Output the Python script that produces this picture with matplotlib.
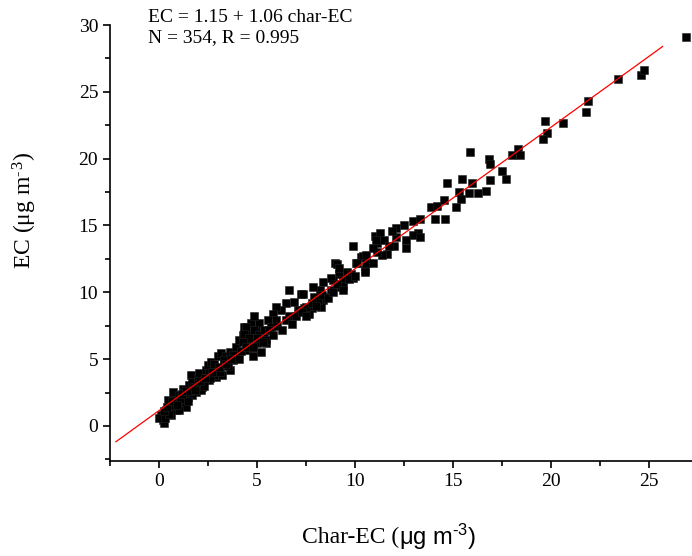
import numpy as np
import matplotlib
matplotlib.use("Agg")
from matplotlib import pyplot as plt
from matplotlib.ticker import MultipleLocator

plt.rcParams['mathtext.default'] = 'regular'

# char-EC vs EC values (ug m-3)
char_ec_low = [0.18, 0.10, 0.36, 0.53, 0.44, 0.78, 0.69, 1.04, 1.20, 0.95, 1.20, 1.46, 1.55, 1.63,
               1.70, 1.97, 2.06, 2.22, 1.90, 2.40, 2.48, 2.65, 2.82, 3.00, 3.16, 3.33, 3.42, 3.60,
               2.90, 3.76, 3.93, 4.10, 4.27, 4.44, 4.60, 4.35, 4.70, 4.95, 5.10, 5.37, 5.44, 5.20,
               4.78, 4.60, 4.00, 3.60, 3.24, 2.57, 2.30, 1.38, 0.27, 0.00, 0.60, 0.87, 1.70, 2.14,
               2.57, 2.82, 0.30, 0.50, 0.80, 1.00, 1.10, 1.30, 1.50, 1.80, 2.00, 2.30, 2.60, 2.80,
               3.10, 3.30, 3.50, 3.80, 4.10, 4.20, 4.50, 4.80, 0.25, 0.40, 0.65, 0.90, 1.15, 1.40,
               1.60, 1.85, 2.10, 2.35, 2.70, 3.05, 3.40, 3.70]
ec_low = [0.45, 0.82, 1.20, 1.57, 1.94, 2.20, 2.57, 2.30, 2.80, 1.70, 1.80, 2.20, 3.07, 3.80,
          3.30, 3.57, 3.94, 2.94, 2.57, 4.20, 4.56, 4.80, 4.30, 5.20, 5.44, 4.70, 5.20, 5.56,
          3.70, 4.94, 5.90, 6.40, 6.80, 5.70, 6.20, 7.40, 7.70, 7.20, 6.56, 6.90, 6.20, 5.56,
          5.20, 6.90, 5.30, 4.20, 3.80, 3.44, 3.44, 1.44, 0.20, 0.57, 0.82, 1.20, 2.30, 2.70,
          3.94, 3.80, 0.60, 0.90, 1.50, 1.20, 2.00, 2.50, 1.90, 2.90, 3.20, 3.00, 3.60, 4.60,
          4.00, 4.90, 4.50, 5.30, 5.00, 5.60, 6.00, 5.80, 1.10, 1.40, 1.90, 1.60, 2.40, 2.60,
          2.60, 2.70, 3.40, 3.60, 4.00, 4.40, 4.60, 5.00]

char_ec_mid = [7.24, 6.90, 6.65, 7.07, 7.40, 6.48, 6.22, 6.65, 5.97, 5.80, 5.54, 5.97, 5.70, 5.10,
               4.86, 4.86, 4.44, 4.35, 4.60, 5.10, 5.37, 5.44, 5.00, 4.27, 4.44, 4.78,
               8.35, 8.20, 7.90, 8.35, 8.26, 7.80, 7.67, 9.00, 9.20, 9.60, 9.90, 9.30, 8.86, 8.80,
               10.30, 10.50, 10.05, 11.00, 11.15, 9.90, 10.40, 10.10, 10.56, 10.90, 10.50, 9.80,
               9.40, 9.06, 9.20, 8.80, 9.40, 7.84, 7.33, 8.43, 8.10, 7.50, 7.16,
               5.00, 5.30, 5.60, 5.80, 6.00, 6.30, 6.50, 6.80, 7.00, 7.30, 7.50, 7.80, 8.00, 8.30,
               8.60, 8.90, 9.10, 9.40, 9.70, 10.00]
ec_mid = [9.90, 9.30, 10.20, 8.70, 8.80, 9.20, 8.70, 8.20, 8.90, 8.40, 7.90, 7.90, 7.40, 7.70,
          8.20, 7.20, 7.40, 6.90, 6.56, 6.80, 7.20, 6.40, 6.20, 6.30, 5.90, 5.90,
          10.80, 10.20, 9.67, 9.40, 8.90, 8.80, 8.40, 12.20, 11.40, 11.50, 11.05, 10.40, 10.90, 10.20,
          12.66, 11.70, 12.20, 14.20, 13.70, 13.50, 12.70, 12.20, 12.20, 12.20, 11.50, 11.40,
          10.90, 12.10, 11.80, 11.05, 10.50, 10.40, 9.90, 9.67, 9.40, 8.90, 8.70,
          6.60, 6.30, 7.20, 6.80, 7.50, 7.20, 7.90, 7.60, 8.20, 8.50, 8.20, 9.20, 9.00, 9.80,
          9.60, 10.00, 10.60, 10.20, 11.00, 11.20]

char_ec_high = [11.30, 11.07, 11.50, 12.10, 12.00, 11.75, 11.66, 11.40, 11.15, 10.90, 10.55,
                12.94, 12.50, 12.10, 11.90, 13.20, 12.94, 13.30, 12.60, 12.60, 13.30,
                13.90, 14.10, 14.60, 14.20, 14.56, 15.15, 15.30, 15.40, 15.80, 16.26, 16.70,
                15.97, 15.44, 14.70, 16.90, 17.50, 17.70, 18.00, 18.30, 18.40, 16.85, 16.90,
                15.87, 19.70, 20.60, 19.80, 19.60, 21.80, 21.87, 23.40, 24.60, 24.76, 26.90]
ec_high = [14.40, 13.90, 13.90, 14.16, 13.50, 13.46, 12.90, 12.80, 13.00, 13.30, 12.80,
           15.30, 15.00, 14.80, 14.60, 14.40, 14.30, 14.16, 13.90, 13.30, 15.50,
           16.35, 15.50, 15.50, 16.45, 16.90, 16.35, 17.50, 16.95, 17.40, 17.45, 17.60,
           18.15, 18.45, 18.15, 18.40, 19.10, 18.50, 20.30, 20.70, 20.27, 19.95, 19.60,
           20.47, 22.80, 22.70, 21.90, 21.50, 23.50, 24.30, 25.95, 26.25, 26.60, 29.07]

char_ec = np.array(char_ec_low + char_ec_mid + char_ec_high)
ec = np.array(ec_low + ec_mid + ec_high)

# regression from the annotation
intercept, slope = 1.15, 1.06
line_x = np.array([-2.2, 25.7])

fig = plt.figure(figsize=(6.92, 5.56), dpi=100)
ax = fig.add_axes([110 / 692, 1 - 460.7 / 556, 582 / 692, 435.7 / 556])

ax.plot(char_ec, ec, 's', color='black', ms=6.4, mec='#222222', mew=0.4, clip_on=False, zorder=2)
ax.plot(line_x, intercept + slope * line_x, color='red', lw=0.9, zorder=3)

ax.set_xlim(-2.5, 27.2)
ax.set_ylim(-2.6, 30)
ax.spines['top'].set_visible(False)
ax.spines['right'].set_visible(False)
for s in ['left', 'bottom']:
    ax.spines[s].set_linewidth(1.2)
ax.xaxis.set_major_locator(MultipleLocator(5))
ax.xaxis.set_minor_locator(MultipleLocator(2.5))
ax.yaxis.set_major_locator(MultipleLocator(5))
ax.yaxis.set_minor_locator(MultipleLocator(2.5))
ax.tick_params(which='both', direction='out', width=1.2)
ax.tick_params(which='major', length=5)
ax.tick_params(which='minor', length=3.5)
for lab in ax.get_xticklabels() + ax.get_yticklabels():
    lab.set_family('Liberation Serif')
    lab.set_fontsize(14)

fig.text(148 / 692, 1 - 9 / 556, "EC = 1.15 + 1.06 char-EC\nN = 354, R = 0.995",
         family='Liberation Serif', fontsize=14, ha='left', va='top', linespacing=1.2)

# labels: superscript drawn with a hyphen as in the original
fig.text(25 / 692, 1 - 210 / 556, "EC (\u03bcg m$^{\u2010\u200a3}$)", family='Liberation Serif',
         fontsize=17, rotation=90, ha='center', va='center')
fig.text(399 / 692, 1 - 537 / 556, "Char-EC (", family='Liberation Serif', fontsize=17,
         ha='right', va='center')
fig.text(399 / 692, 1 - 537 / 556, "\u03bcg m$^{\u20103}$)", family='Liberation Sans', fontsize=17,
         ha='left', va='center')

fig.savefig("out.png", dpi=100)
